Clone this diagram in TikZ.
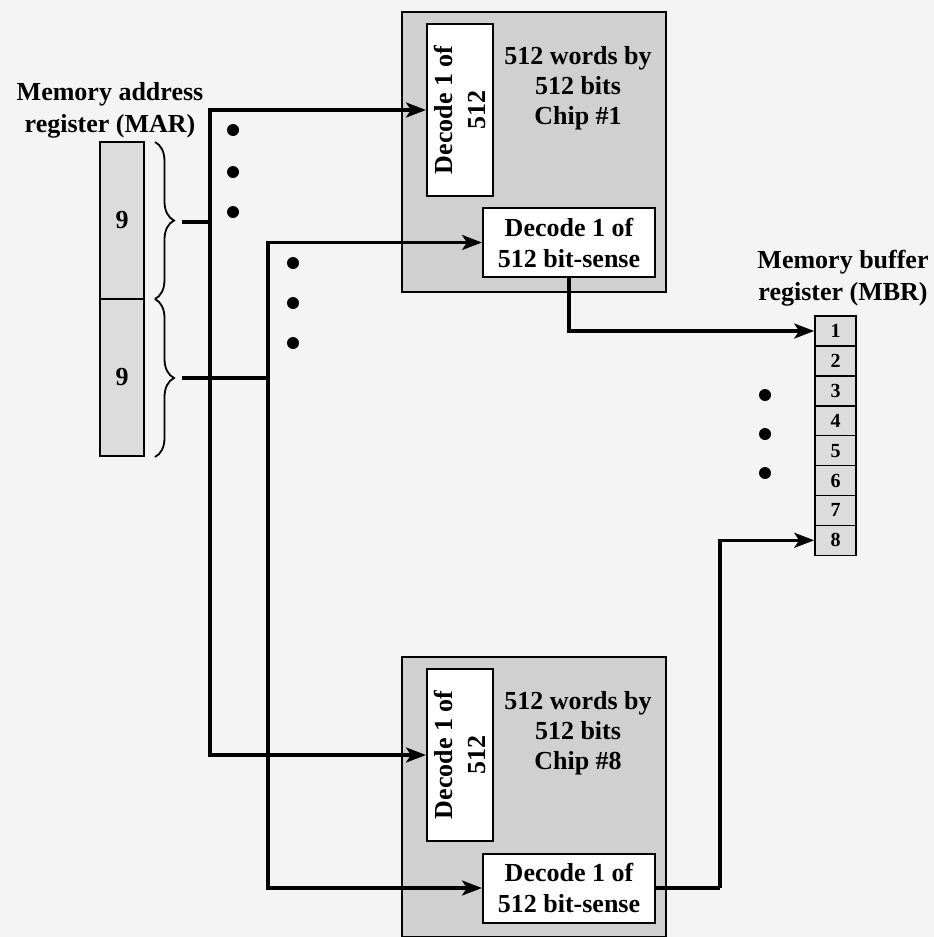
\documentclass[tikz,border=0pt]{standalone}
\usepackage{fontspec}
\setmainfont{Liberation Serif}
\usetikzlibrary{arrows.meta,decorations.pathreplacing,positioning}
\definecolor{bgc}{RGB}{244,244,245}
\definecolor{chipc}{RGB}{208,208,208}
\definecolor{regc}{RGB}{220,220,220}
\tikzset{
  lbl/.style={font=\fontsize{26}{32}\selectfont\bfseries, align=center, inner sep=0pt},
  clbl/.style={font=\fontsize{26}{30}\selectfont\bfseries, align=center, inner sep=0pt},
  chip/.style={draw, line width=2pt, fill=chipc, minimum width=264pt, minimum height=280pt, inner sep=0pt},
  decv/.style={draw, line width=2pt, fill=white, minimum width=66pt, minimum height=172pt, inner sep=0pt},
  decs/.style={draw, line width=2pt, fill=white, minimum width=172pt, minimum height=69pt, inner sep=0pt, align=center, font=\fontsize{26}{31}\selectfont\bfseries},
  reg/.style={draw, line width=2pt, fill=regc, minimum width=44pt, minimum height=157pt, inner sep=0pt, font=\fontsize{26}{28}\selectfont\bfseries},
  mcell/.style={draw, line width=1.6pt, fill=regc, minimum width=41pt, minimum height=30pt, inner sep=0pt, font=\fontsize{20}{22}\selectfont\bfseries},
  wire/.style={line width=3.2pt},
  arr/.style={line width=3.2pt, -{Stealth[length=20pt,width=15pt,inset=5pt]}},
  brc/.style={line width=1.8pt, decorate, decoration={brace, amplitude=19pt}},
  dot/.style={circle, fill=black, inner sep=0pt, minimum size=12pt}
}
\begin{document}
\begin{tikzpicture}[x=1pt,y=-1pt]
\fill[bgc] (0,0) rectangle (934,937);
\useasboundingbox (0,0) rectangle (934,937);

% labels
\node[lbl] (marlbl) at (110,110) {Memory address\\register (MAR)};
\node[lbl] (mbrlbl) at (843,278) {Memory buffer\\register (MBR)};

% MAR
\node[reg] (mar1) at (122,220.5) {9};
\node[reg] (mar2) at (122,377.5) {9};

% braces
\draw[brc] (155,142) -- (155,299);
\draw[brc] (155,299) -- (155,457);
\coordinate (t1) at (182,222);
\coordinate (t2) at (182,378);
\coordinate (j1) at (210,222);
\coordinate (j2) at (268,378);

% chips
\node[chip] (chip1) at (534,152) {};
\node[chip] (chip8) at (534,797) {};
\node[decv] (dec1) at (460,110) {};
\node[rotate=90, lbl, font=\fontsize{26}{33}\selectfont\bfseries] (dec1t) at (dec1) {Decode 1 of\\512};
\node[decv] (dec8) at (460,755) {};
\node[rotate=90, lbl, font=\fontsize{26}{33}\selectfont\bfseries] (dec8t) at (dec8) {Decode 1 of\\512};
\node[decs] (bs1) at (569,242.5) {Decode 1 of\\512 bit-sense};
\node[decs] (bs8) at (569,888) {Decode 1 of\\512 bit-sense};
\node[clbl] (c1t) at (578,88) {512 words by\\512 bits\\Chip \#1};
\node[clbl] (c8t) at (578,733) {512 words by\\512 bits\\Chip \#8};

% MBR
\foreach \i in {1,...,8} {
  \node[mcell] (m\i) at (835.5,{331+29.9*(\i-1)}) {\i};
}

% connectors
\draw[wire] (t1) -- (j1);
\draw[wire] (t2) -- (j2);
\draw[arr] (j1) |- (dec1.west);
\draw[arr] (j1) |- (dec8.west);
\draw[arr] (j2) |- (bs1.west);
\draw[arr] (j2) |- (bs8.west);
\draw[arr] (bs1.south) |- (m1.west);
\coordinate (o8) at (720,888);
\draw[wire] (bs8.east) -- (o8);
\draw[arr] (o8) |- (m8.west);

% dots
\node[dot] (d1) at (233,130) {};
\node[dot] (d2) at (233,172) {};
\node[dot] (d3) at (233,212) {};
\node[dot] (d4) at (293,263) {};
\node[dot] (d5) at (293,303) {};
\node[dot] (d6) at (293,343) {};
\node[dot] (d7) at (765,395) {};
\node[dot] (d8) at (765,434) {};
\node[dot] (d9) at (765,473) {};
\end{tikzpicture}
\end{document}
